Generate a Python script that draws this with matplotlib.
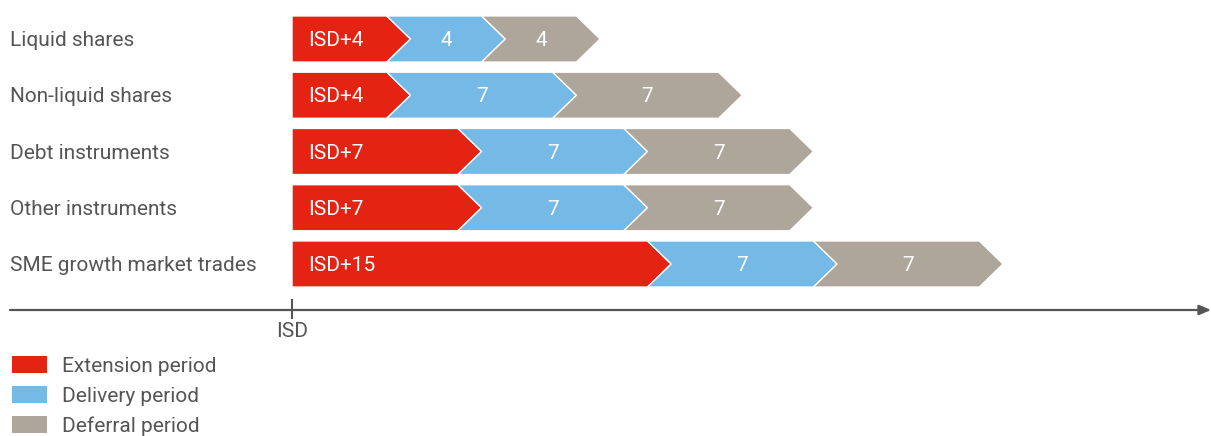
import matplotlib.pyplot as plt
from matplotlib.patches import Polygon, Patch

# data
categories = ['Liquid shares', 'Non-liquid shares', 'Debt instruments',
              'Other instruments', 'SME growth market trades']
extension = [4, 4, 7, 7, 15]
delivery = [4, 7, 7, 7, 7]
deferral = [4, 7, 7, 7, 7]
period_names = ['Extension period', 'Delivery period', 'Deferral period']
colors = ['#E42313', '#75B9E6', '#AEA59B']

plt.rcParams['font.family'] = ['Roboto', 'DejaVu Sans']
txt = '#555555'

fig = plt.figure(figsize=(12.11, 4.36), dpi=100)
ax = fig.add_axes([0, 0, 1, 1])

k = 23.7  # px per unit
ax.set_xlim(-292 / k, (1211 - 292) / k)
ax.set_ylim((436 - 39) / 56.25, -39 / 56.25)
ax.axis('off')

h = 0.82
d = 1.0  # chevron tip depth

def chevron(s, e, y, first, color):
    top, bot = y - h / 2, y + h / 2
    pts = [(s, top), (e, top), (e + d, y), (e, bot), (s, bot)]
    if not first:
        pts.append((s + d, y))
    ax.add_patch(Polygon(pts, closed=True, facecolor=color, edgecolor='white',
                         linewidth=1.0, joinstyle='miter'))

for i, cat in enumerate(categories):
    vals = [extension[i], delivery[i], deferral[i]]
    start = 0
    for j, v in enumerate(vals):
        end = start + v
        chevron(start, end, i, j == 0, colors[j])
        if j == 0:
            ax.text(start + 0.68, i + 0.03, 'ISD+%d' % v, color='white', fontsize=15,
                    ha='left', va='center')
        else:
            ax.text((start + end) / 2 + d / 2, i + 0.03, '%d' % v, color='white',
                    fontsize=15, ha='center', va='center')
        start = end
    ax.text(-282 / k, i + 0.03, cat, color=txt, fontsize=15, ha='left', va='center')

# time axis
ay = (310 - 39) / 56.25
ax.annotate('', xy=(1211 / k - 292 / k, ay), xytext=(-282 / k, ay),
            arrowprops=dict(arrowstyle='-|>,head_length=0.7,head_width=0.3',
                            color=txt, lw=1.6, shrinkA=0, shrinkB=0))
ax.plot([0, 0], [(300 - 39) / 56.25, (318 - 39) / 56.25], color=txt, lw=1.5)
ax.text(0, (331 - 39) / 56.25, 'ISD', color=txt, fontsize=15, ha='center', va='center')

handles = [Patch(facecolor=c, edgecolor='none') for c in colors]
ax.legend(handles, period_names, loc='lower left', bbox_to_anchor=(12 / 1211, 0.0),
          frameon=False, fontsize=15, handlelength=1.7, handleheight=0.9,
          handletextpad=0.7, labelspacing=0.5, borderpad=0.0, borderaxespad=0.0,
          labelcolor=txt)

fig.savefig('out.png', dpi=100)
